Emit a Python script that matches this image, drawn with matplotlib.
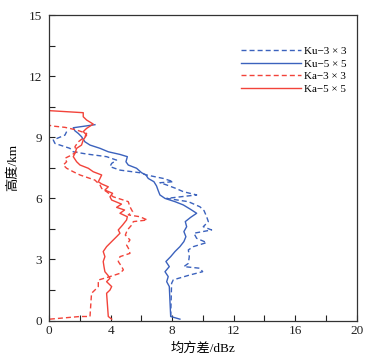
import matplotlib
matplotlib.use("Agg")
import matplotlib.pyplot as plt
from matplotlib.ticker import MultipleLocator

plt.rcParams['font.family'] = ['Liberation Serif', 'Noto Sans CJK SC']
plt.rcParams['axes.unicode_minus'] = True

# Ku-5x5 (solid blue): std dev (dBz), height (km)
ku5_x = [8.50, 7.90, 7.85, 7.81, 7.64, 7.74, 7.53, 7.81, 7.59, 7.90, 8.18, 8.50,
         8.76, 8.89, 8.76, 8.94, 8.85, 9.20, 9.59, 9.20, 8.72, 8.18, 7.53, 7.20,
         7.09, 6.98, 6.81, 6.44, 6.29, 6.01, 5.68, 5.14, 4.99, 5.08, 4.60, 3.84,
         3.30, 2.65, 2.32, 2.10, 1.89, 1.67, 1.56, 2.97]
ku5_y = [0.07, 0.20, 1.01, 1.67, 1.91, 2.16, 2.40, 2.65, 2.90, 3.14, 3.39, 3.63,
         3.88, 4.12, 4.37, 4.61, 4.86, 5.07, 5.27, 5.46, 5.68, 5.84, 6.00, 6.17,
         6.38, 6.61, 6.82, 6.98, 7.15, 7.26, 7.48, 7.64, 7.80, 8.05, 8.16, 8.29,
         8.46, 8.62, 8.78, 9.03, 9.19, 9.32, 9.47, 9.62]

# Ku-3x3 (dashed blue)
ku3_x = [7.90, 7.96, 8.07, 9.15, 9.98, 9.80, 8.76, 9.05, 9.11, 9.05, 9.37, 10.24,
         9.59, 9.41, 10.56, 10.02, 10.35, 10.24, 10.07, 9.80, 9.05, 7.64, 9.59,
         8.72, 8.24, 7.64, 7.20, 8.07, 7.42, 6.33, 5.90, 4.60, 3.95, 4.06, 4.38,
         3.73, 2.43, 1.56, 1.34, 0.37, 0.26, 1.02, 1.13]
ku3_y = [0.20, 1.83, 2.00, 2.24, 2.40, 2.57, 2.65, 2.81, 3.14, 3.47, 3.63, 3.83,
         4.04, 4.29, 4.45, 4.61, 4.86, 5.10, 5.40, 5.59, 5.84, 6.00, 6.17,
         6.33, 6.49, 6.66, 6.77, 6.82, 6.98, 7.15, 7.26, 7.39, 7.56, 7.72, 7.88,
         8.05, 8.18, 8.29, 8.46, 8.70, 8.87, 9.11, 9.28]

# Ka-5x5 (solid red)
ka5_x = [4.06, 3.84, 3.73, 3.95, 4.06, 3.73, 3.95, 3.80, 3.62, 3.56, 3.51, 3.62,
         3.51, 3.73, 4.06, 4.38, 4.60, 4.49, 4.77, 5.03, 5.08, 4.60, 4.90, 4.38,
         4.70, 4.06, 3.95, 4.12, 3.62, 3.84, 3.41, 3.19, 3.30, 3.41, 2.86, 2.54,
         2.00, 1.78, 1.56, 1.67, 1.78, 2.10, 2.21, 2.43, 2.21, 2.43, 2.86, 2.43,
         2.21, 2.21, 0.00, 0.00]
ka5_y = [0.07, 0.20, 1.34, 1.50, 1.67, 1.91, 2.08, 2.24, 2.40, 2.65, 2.90, 3.14,
         3.39, 3.63, 3.88, 4.12, 4.29, 4.45, 4.69, 4.94, 5.10, 5.27, 5.43, 5.56,
         5.72, 5.92, 6.08, 6.25, 6.41, 6.57, 6.71, 6.82, 6.98, 7.15, 7.31, 7.48,
         7.64, 7.80, 8.05, 8.21, 8.46, 8.62, 8.87, 9.11, 9.28, 9.44, 9.65, 9.85,
         10.01, 10.21, 10.31, 11.32]

# Ka-3x3 (dashed red)
ka3_x = [0.04, 2.00, 2.65, 2.75, 2.97, 3.19, 3.19, 3.95, 4.60, 4.82, 4.71, 4.49,
         4.60, 5.25, 5.15, 5.03, 5.25, 4.95, 5.08, 5.36, 5.47, 6.38, 5.90, 5.14,
         5.42, 5.25, 5.14, 4.82, 4.16, 3.73, 3.41, 3.30, 2.97, 2.00, 1.56, 1.13,
         0.91, 1.13, 1.02, 1.45, 1.78, 1.67, 1.89, 2.32, 2.43, 1.78, 1.02, 0.26, 0.00]
ka3_y = [0.07, 0.20, 0.20, 1.34, 1.50, 1.67, 1.99, 2.16, 2.32, 2.49, 2.65, 2.90,
         3.14, 3.30, 3.55, 3.71, 3.96, 4.20, 4.45, 4.69, 4.86, 4.94, 5.10, 5.19,
         5.35, 5.59, 5.84, 5.92, 6.08, 6.33, 6.49, 6.66, 6.90, 7.15, 7.31, 7.48,
         7.64, 7.80, 7.97, 8.13, 8.29, 8.54, 8.78, 9.03, 9.19, 9.36, 9.49, 9.55, 9.59]

blue = '#3b62bd'
red = '#f2433a'
dash = (0, (3.6, 2.2))

fig = plt.figure(figsize=(3.79, 3.61), dpi=100)
ax = fig.add_axes([0.130, 0.112, 0.811, 0.846])

ax.plot(ku3_x, ku3_y, color=blue, lw=1.0, linestyle=dash, label='Ku\u22123 \u00d7 3')
ax.plot(ku5_x, ku5_y, color=blue, lw=1.0, label='Ku\u22125 \u00d7 5')
ax.plot(ka3_x, ka3_y, color=red, lw=1.0, linestyle=dash, label='Ka\u22123 \u00d7 3')
ax.plot(ka5_x, ka5_y, color=red, lw=1.0, label='Ka\u22125 \u00d7 5')

ax.set_xlim(0, 20)
ax.set_ylim(0, 15)
ax.xaxis.set_major_locator(MultipleLocator(4))
ax.xaxis.set_minor_locator(MultipleLocator(2))
ax.yaxis.set_major_locator(MultipleLocator(3))
ax.yaxis.set_minor_locator(MultipleLocator(1.5))
ax.tick_params(which='both', direction='in', length=4, width=0.8,
               labelsize=9.5, colors='#222222')
ax.tick_params(axis='x', pad=3)
ax.tick_params(axis='y', pad=5)
for s in ax.spines.values():
    s.set_linewidth(0.9)
    s.set_color('#333333')

ax.set_xlabel('均方差/dBz', fontsize=9.5, labelpad=4)
ax.set_ylabel('高度/km', fontsize=9.5, labelpad=7)

leg = ax.legend(loc='upper right', bbox_to_anchor=(0.99, 0.92), frameon=False,
                fontsize=8, handlelength=5.4, handletextpad=0.35,
                labelspacing=0.25, borderaxespad=0.2)

fig.savefig('out.png', dpi=100)
